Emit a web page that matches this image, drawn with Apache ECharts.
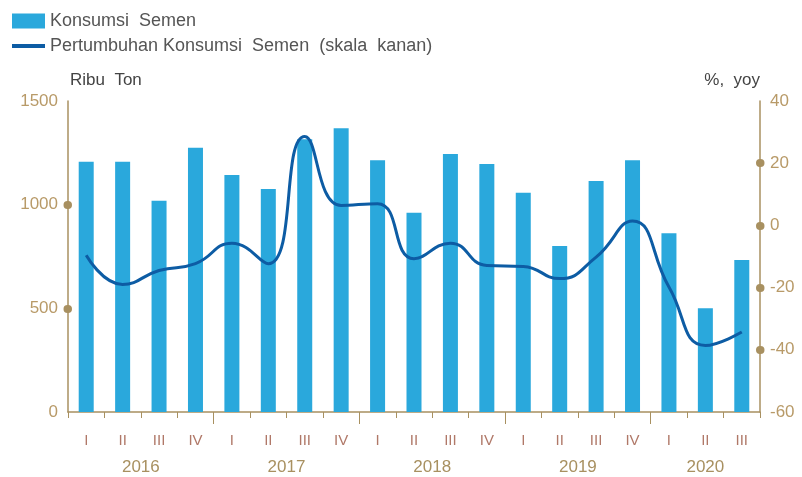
<!DOCTYPE html>
<html>
<head>
<meta charset="utf-8">
<script src="https://cdn.jsdelivr.net/npm/echarts@6/dist/echarts.min.js"></script>
<style>
  html, body { margin: 0; padding: 0; background: #fff; }
  #main { width: 802px; height: 477px; }
</style>
</head>
<body>
<div id="main"></div>
<script>
// data
const quarters = ['I', 'II', 'III', 'IV', 'I', 'II', 'III', 'IV', 'I', 'II', 'III', 'IV',
  'I', 'II', 'III', 'IV', 'I', 'II', 'III']
const years = ['2016', '2017', '2018', '2019', '2020']
const quartersPerYear = [4, 4, 4, 4, 3]
const konsumsi = [1207, 1207, 1019, 1275, 1143, 1076, 1315, 1368, 1214, 961,
  1244, 1196, 1058, 801, 1114, 1214, 862, 500, 733]
const pertumbuhan = [-9.6, -19, -14.5, -12.3, -5.7, -12.3, 28.6, 6.4, 7, -10.7,
  -5.7, -12.9, -13.2, -17.1, -10.2, 1.4, -19.8, -38.6, -34.3]
const leftTicks = [0, 500, 1000, 1500]
const rightTicks = [-60, -40, -20, 0, 20, 40]

const barName = 'Konsumsi  Semen'
const lineName = 'Pertumbuhan Konsumsi  Semen  (skala  kanan)'

// year label centers and year boundaries, in category units
let yearCenters = []
let yearBounds = []
let acc = 0
quartersPerYear.forEach((n, i) => {
  yearCenters.push(acc + n / 2)
  acc += n
  if (i < quartersPerYear.length - 1) yearBounds.push(acc)
})

const axisColor = '#a89060'
const labelColor = '#b89a68'
const font = 'Liberation Sans, Arial, sans-serif'

let chart = echarts.init(document.getElementById('main'))

let option = {
  animation: false,
  textStyle: { fontFamily: font },
  legend: {
    orient: 'vertical',
    left: 12,
    top: 12,
    padding: 0,
    itemWidth: 33,
    itemHeight: 15,
    itemGap: 7,
    textStyle: { color: '#555', fontSize: 18, fontFamily: font },
    data: [
      { name: barName, icon: 'rect' },
      { name: lineName, icon: 'path://M0,0 H33 V4 H0 Z' }
    ]
  },
  grid: { left: 68, right: 42, top: 101, bottom: 65 },
  xAxis: [
    {
      type: 'category',
      data: quarters,
      axisLine: { onZero: false, lineStyle: { color: axisColor, width: 1.5 } },
      axisTick: { show: true, interval: 0, length: 6, lineStyle: { color: axisColor } },
      axisLabel: { color: '#b07868', fontSize: 15, margin: 21 }
    },
    {
      type: 'value',
      position: 'bottom',
      min: 0,
      max: quarters.length,
      splitLine: { show: false },
      axisLine: { show: false, onZero: false },
      axisTick: {
        show: true,
        length: 12,
        customValues: yearBounds,
        lineStyle: { color: axisColor }
      },
      axisLabel: {
        customValues: yearCenters,
        color: '#a89060',
        fontSize: 17,
        margin: 47,
        formatter: v => years[yearCenters.indexOf(v)]
      }
    }
  ],
  yAxis: [
    {
      type: 'value',
      min: leftTicks[0],
      max: leftTicks[leftTicks.length - 1],
      interval: 500,
      name: 'Ribu  Ton',
      nameGap: 12,
      nameTextStyle: { color: '#444', fontSize: 17, align: 'left', padding: [0, 0, 0, 2] },
      splitLine: { show: false },
      axisLine: { show: true, lineStyle: { color: axisColor, width: 1.5 } },
      axisTick: {
        show: true,
        length: 0.5,
        customValues: leftTicks.slice(1, -1),
        lineStyle: { color: axisColor, width: 8, cap: 'round' }
      },
      axisLabel: { color: labelColor, fontSize: 17, margin: 10, formatter: v => String(v) }
    },
    {
      type: 'value',
      min: rightTicks[0],
      max: rightTicks[rightTicks.length - 1],
      interval: 20,
      name: '%,  yoy',
      nameGap: 12,
      nameTextStyle: { color: '#444', fontSize: 17, align: 'right' },
      splitLine: { show: false },
      axisLine: { show: true, lineStyle: { color: axisColor, width: 1.5 } },
      axisTick: {
        show: true,
        length: 0.5,
        customValues: rightTicks.slice(1, -1),
        lineStyle: { color: axisColor, width: 8, cap: 'round' }
      },
      axisLabel: { color: labelColor, fontSize: 17, margin: 10, formatter: v => String(v) }
    }
  ],
  series: [
    {
      name: barName,
      type: 'bar',
      data: konsumsi,
      barWidth: 15,
      itemStyle: { color: '#2aa8dc' }
    },
    {
      name: lineName,
      type: 'line',
      yAxisIndex: 1,
      data: pertumbuhan,
      smooth: true,
      symbol: 'none',
      lineStyle: { color: '#0d5ca4', width: 3 },
      itemStyle: { color: '#0d5ca4' }
    }
  ]
}

chart.setOption(option)
</script>
</body>
</html>
